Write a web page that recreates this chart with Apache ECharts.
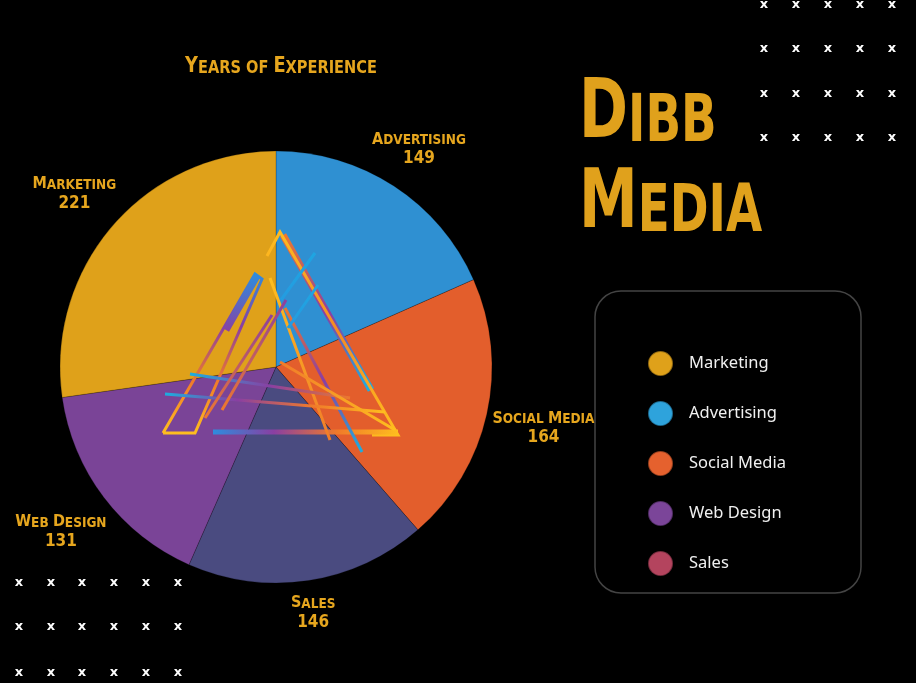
<!DOCTYPE html>
<html>
<head>
<meta charset="utf-8">
<script src="https://cdn.jsdelivr.net/npm/echarts@6/dist/echarts.min.js"></script>
<style>
html, body { margin: 0; padding: 0; background: #000; }
#main { width: 916px; height: 683px; }
</style>
</head>
<body>
<div id="main"></div>
<script>
// 数据（顺时针，从12点开始）
var categories = ['Advertising', 'Social Media', 'Sales', 'Web Design', 'Marketing'];
var years = [149, 164, 146, 131, 221];
var legendOrder = ['Marketing', 'Advertising', 'Social Media', 'Web Design', 'Sales'];

var sliceColors = {
	'Marketing': '#dfa11a',
	'Advertising': '#2f90d2',
	'Social Media': '#e35e2c',
	'Web Design': '#7a4497',
	'Sales': '#4a4b80'
};
var legendColors = {
	'Marketing': '#dfa11a',
	'Advertising': '#2ea3dc',
	'Social Media': '#e5612e',
	'Web Design': '#7b4599',
	'Sales': '#b4445e'
};
// label distance beyond the arc
var labelLen = { 'Marketing': 51, 'Advertising': 46, 'Social Media': 58, 'Web Design': 54, 'Sales': 31 };

var gold = '#e6a61e';
var font = '"DejaVu Sans Condensed", "DejaVu Sans", sans-serif';

// 小型大写
function smallCaps(str, big, small) {
	return str.split(' ').map(function (w) {
		var first = w.charAt(0);
		if (first === first.toUpperCase()) {
			return '{' + big + '|' + first + '}{' + small + '|' + w.slice(1).toUpperCase() + '}';
		}
		return '{' + small + '|' + w.toUpperCase() + '}';
	}).join('{' + small + '| }');
}

var myChart = echarts.init(document.getElementById('main'), null, { renderer: 'canvas' });

var graphics = [];

// x marks
var xsTop = [764, 796, 828, 860, 892], ysTop = [5, 49, 94, 138];
var xsBot = [19, 51, 82, 114, 146, 178], ysBot = [583, 627, 673];
function addMarks(xs, ys) {
	for (var i = 0; i < xs.length; i++) {
		for (var j = 0; j < ys.length; j++) {
			graphics.push({
				type: 'text', x: xs[i], y: ys[j], z: 5,
				style: { text: 'x', fill: '#ffffff', font: 'bold 13px "DejaVu Sans"', align: 'center', verticalAlign: 'middle' }
			});
		}
	}
}
addMarks(xsTop, ysTop);
addMarks(xsBot, ysBot);

// legend box
graphics.push({
	type: 'rect', z: 1,
	shape: { x: 595, y: 291, width: 266, height: 302, r: 26 },
	style: { fill: 'transparent', stroke: '#444444', lineWidth: 1.5 }
});

// chart title
graphics.push({
	type: 'text', x: 281, y: 77, z: 5, scaleX: 0.9,
	style: {
		text: smallCaps('Years of Experience', 'b', 's'),
		align: 'center', verticalAlign: 'bottom',
		rich: {
			b: { fill: gold, fontFamily: font, fontWeight: 'bold', fontSize: 22, lineHeight: 26, verticalAlign: 'bottom' },
			s: { fill: gold, fontFamily: font, fontWeight: 'bold', fontSize: 18, lineHeight: 26, verticalAlign: 'bottom' }
		}
	}
});

// brand
graphics.push({
	type: 'text', x: 579, y: 67, z: 5, scaleX: 0.8,
	style: {
		text: '{B|D}{S|IBB}\n{B|M}{S|EDIA}',
		align: 'left', verticalAlign: 'top',
		rich: {
			B: { fill: '#e0a11c', fontFamily: font, fontWeight: 'bold', fontSize: 82, lineHeight: 90, verticalAlign: 'bottom' },
			S: { fill: '#e0a11c', fontFamily: font, fontWeight: 'bold', fontSize: 65, lineHeight: 90, verticalAlign: 'bottom' }
		}
	}
});

// 中心装饰图形
function grad(x1, y1, x2, y2, cols) {
	var stops = cols.map(function (c, i) { return { offset: i / (cols.length - 1), color: c }; });
	return new echarts.graphic.LinearGradient(x1, y1, x2, y2, stops);
}
var logo = [
	{ pts: [[163, 433], [195, 433], [262, 279], [255, 274], [163, 433]], w: 3, g: grad(0, 1, 0, 0, ['#ffc01e', '#f07a2a', '#8a3fa2', '#2a8fe0']) },
	{ pts: [[257, 276], [226, 330]], w: 7, g: grad(0, 0, 0, 1, ['#2a8fe0', '#8a3fa2']) },
	{ pts: [[283, 235], [371, 390]], w: 7, g: grad(0, 0, 0, 1, ['#f07a2a', '#8a3fa2', '#18b2e2']) },
	{ pts: [[267, 256], [280, 232], [398, 435], [372, 435]], w: 3, g: grad(0, 0, 1, 1, ['#ffc01e', '#f48a24', '#ffc01e']) },
	{ pts: [[213, 432], [398, 432]], w: 5, g: grad(0, 0, 1, 0, ['#2a8fe0', '#8a3fa2', '#f07a2a', '#ffc01e']) },
	{ pts: [[270, 278], [330, 440]], w: 3, g: grad(0, 0, 0, 1, ['#ffc01e', '#f07a2a']) },
	{ pts: [[285, 308], [362, 452]], w: 3, g: grad(0, 0, 0, 1, ['#f07a2a', '#8a3fa2', '#18b2e2']) },
	{ pts: [[190, 374], [350, 398]], w: 3, g: grad(0, 0, 1, 0, ['#18b2e2', '#8a3fa2', '#f07a2a']) },
	{ pts: [[165, 394], [385, 412]], w: 3, g: grad(0, 0, 1, 0, ['#18b2e2', '#8a3fa2', '#f07a2a', '#ffc01e']) },
	{ pts: [[280, 362], [395, 430]], w: 3, g: grad(0, 0, 1, 1, ['#f07a2a', '#ffc01e']) },
	{ pts: [[315, 253], [281, 300]], w: 3, g: grad(0, 0, 1, 1, ['#18b2e2', '#2a8fe0']) },
	{ pts: [[318, 285], [288, 328]], w: 3, g: grad(0, 0, 1, 1, ['#18b2e2', '#2a8fe0']) },
	{ pts: [[272, 315], [205, 418]], w: 3, g: grad(0, 0, 0, 1, ['#8a3fa2', '#f07a2a']) },
	{ pts: [[286, 300], [222, 410]], w: 3, g: grad(0, 0, 0, 1, ['#8a3fa2', '#f07a2a']) }
];
logo.forEach(function (l) {
	graphics.push({
		type: 'polyline', z: 10,
		shape: { points: l.pts },
		style: { stroke: l.g, lineWidth: l.w, fill: null, lineJoin: 'miter' }
	});
});

var pieData = categories.map(function (name, i) {
	return {
		name: name,
		value: years[i],
		itemStyle: { color: sliceColors[name] },
		labelLine: { length: labelLen[name] }
	};
});

var option = {
	backgroundColor: '#000000',
	animation: false,
	graphic: graphics,
	legend: {
		orient: 'vertical',
		left: 647,
		top: 350,
		padding: 0,
		itemWidth: 25,
		itemHeight: 25,
		itemGap: 23,
		icon: 'circle',
		selectedMode: false,
		data: legendOrder.map(function (n) {
			return { name: n, itemStyle: { color: legendColors[n] } };
		}),
		textStyle: {
			color: '#f0f0f0',
			fontFamily: 'Noto Sans',
			fontSize: 16.5,
			lineHeight: 20,
			padding: [0, 0, 0, 11]
		}
	},
	series: [
		{
			type: 'pie',
			center: [276, 367],
			radius: 216,
			startAngle: 90,
			clockwise: true,
			avoidLabelOverlap: false,
			itemStyle: { borderColor: 'rgba(0,0,0,0.35)', borderWidth: 0.6 },
			label: {
				show: true,
				position: 'outside',
				distanceToLabelLine: 0,
				formatter: function (p) {
					return smallCaps(p.name, 'b', 's') + '\n{n|' + p.value + '}';
				},
				rich: {
					b: { color: gold, fontFamily: font, fontWeight: 'bold', fontSize: 16, lineHeight: 23, verticalAlign: 'bottom' },
					s: { color: gold, fontFamily: font, fontWeight: 'bold', fontSize: 13.5, lineHeight: 23, verticalAlign: 'bottom' },
					n: { color: gold, fontFamily: font, fontWeight: 'bold', fontSize: 17, lineHeight: 23, align: 'center' }
				}
			},
			labelLine: { show: false, length2: 0 },
			labelLayout: function () {
				return { align: 'center', verticalAlign: 'middle' };
			},
			emphasis: { disabled: true },
			data: pieData
		}
	]
};

myChart.setOption(option);
</script>
</body>
</html>
